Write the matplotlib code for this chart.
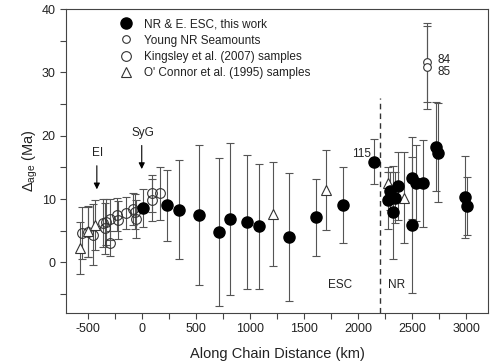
import matplotlib
matplotlib.use("Agg")
import matplotlib.pyplot as plt
from matplotlib.ticker import MultipleLocator, FuncFormatter

plt.rcParams['font.family'] = ['Liberation Sans', 'DejaVu Sans']
plt.rcParams['axes.unicode_minus'] = False
plt.rcParams['mathtext.fontset'] = 'custom'
plt.rcParams['mathtext.rm'] = 'Liberation Sans'
plt.rcParams['mathtext.it'] = 'Liberation Sans:italic'

# NR & E. ESC, this work
nr_x = [10, 230, 345, 525, 710, 820, 970, 1080, 1357, 1610, 1857, 2150, 2280, 2290, 2320,
        2345, 2370, 2495, 2495, 2530, 2595, 2715, 2735, 2985, 3010]
nr_y = [8.6, 9.0, 8.3, 7.5, 4.8, 6.8, 6.4, 5.7, 4.0, 7.1, 9.0, 15.9, 9.8, 11.3, 7.9,
        10.2, 12.1, 13.3, 5.9, 12.6, 12.5, 18.3, 17.3, 10.3, 8.9]
nr_err = [3.0, 5.6, 7.8, 11.0, 11.7, 12.0, 10.6, 9.9, 10.1, 6.1, 6.0, 3.6, 4.5, 3.0, 7.4,
          4.0, 5.4, 6.5, 10.7, 6.0, 6.9, 7.0, 7.8, 6.5, 4.6]

# Young NR Seamounts
yng_x = [2640, 2640]
yng_y = [31.6, 30.8]
yng_err = [6.2, 6.6]

# Kingsley et al. (2007) samples
kin_x = [-555, -500, -455, -360, -330, -340, -295, -295, -230, -220, -150, -80, -65, -55, 95, 95, 165]
kin_y = [4.6, 4.8, 4.4, 6.2, 6.4, 5.4, 3.0, 6.8, 7.5, 6.7, 7.8, 8.4, 8.0, 6.8, 10.9, 9.8, 10.9]
kin_err = [4.1, 4.0, 4.8, 3.8, 3.6, 4.0, 2.0, 3.2, 2.6, 3.0, 2.5, 2.5, 2.8, 3.0, 2.9, 3.3, 4.2]

# O' Connor et al. (1995) samples
oc_x = [-570, -500, -430, 1210, 1707, 2280, 2420]
oc_y = [2.2, 4.9, 5.9, 7.6, 11.4, 12.5, 10.2]
oc_err = [4.1, 4.0, 4.0, 8.2, 6.3, 2.5, 7.2]

ecol = '#555555'
fig = plt.figure(figsize=(5, 3.64), dpi=100)
ax = fig.add_axes([0.132, 0.140, 0.844, 0.835])

eb = dict(fmt='none', ecolor=ecol, elinewidth=0.8, capsize=2.8, capthick=0.8, zorder=2)
ax.errorbar(kin_x, kin_y, yerr=kin_err, **eb)
ax.errorbar(oc_x, oc_y, yerr=oc_err, **eb)
ax.errorbar(yng_x, yng_y, yerr=yng_err, **eb)
ax.errorbar(nr_x, nr_y, yerr=nr_err, **eb)

l1, = ax.plot(nr_x, nr_y, 'o', ms=8, mfc='black', mec='black', ls='none', zorder=4)
l2, = ax.plot(yng_x, yng_y, 'o', ms=5.5, mfc='white', mec='#333333', mew=0.8, ls='none', zorder=3)
l3, = ax.plot(kin_x, kin_y, 'o', ms=7, mfc='none', mec='#333333', mew=0.8, ls='none', zorder=3)
l4, = ax.plot(oc_x, oc_y, '^', ms=6.5, mfc='white', mec='#333333', mew=0.8, ls='none', zorder=3)

ax.legend([l1, l2, l3, l4],
          ['NR & E. ESC, this work', 'Young NR Seamounts',
           'Kingsley et al. (2007) samples', "O' Connor et al. (1995) samples"],
          loc='upper left', bbox_to_anchor=(0.115, 0.985), frameon=False,
          fontsize=8.5, handlelength=1.2, handletextpad=0.9, labelspacing=0.35,
          borderaxespad=0, labelcolor='#222222')

ax.plot([2200, 2200], [-8, 26], color='#333333', lw=1, ls=(0, (4, 3)), zorder=1)

tc = '#222222'
ax.annotate('', xy=(-415, 11.1), xytext=(-415, 15.7),
            arrowprops=dict(arrowstyle='-|>', color='black', lw=0.8, mutation_scale=9))
ax.text(-405, 17.3, 'EI', ha='center', va='center', fontsize=8.5, color=tc)
ax.annotate('', xy=(0, 14.3), xytext=(0, 18.9),
            arrowprops=dict(arrowstyle='-|>', color='black', lw=0.8, mutation_scale=9))
ax.text(15, 20.5, 'SyG', ha='center', va='center', fontsize=8.5, color=tc)

ax.text(2730, 32.0, '84', ha='left', va='center', fontsize=8.5, color=tc)
ax.text(2730, 30.0, '85', ha='left', va='center', fontsize=8.5, color=tc)
ax.text(2120, 17.1, '115', ha='right', va='center', fontsize=8.5, color=tc)
ax.text(1835, -3.5, 'ESC', ha='center', va='center', fontsize=8.5, color=tc)
ax.text(2355, -3.5, 'NR', ha='center', va='center', fontsize=8.5, color=tc)

ax.set_xlim(-700, 3200)
ax.set_ylim(-8, 40)
ax.xaxis.set_major_locator(MultipleLocator(250))
ax.yaxis.set_major_locator(MultipleLocator(5))
ax.xaxis.set_major_formatter(FuncFormatter(lambda v, p: '%d' % v if v % 500 == 0 else ''))
ax.yaxis.set_major_formatter(FuncFormatter(lambda v, p: '%d' % v if v % 10 == 0 else ''))
ax.tick_params(direction='out', length=4, width=0.8, colors='#444444', labelcolor=tc, labelsize=9)

for s in ax.spines.values():
    s.set_color('#444444')
    s.set_linewidth(0.8)

ax.set_xlabel('Along Chain Distance (km)', fontsize=10.5, color=tc, labelpad=8)
ax.set_ylabel(r'$\Delta_{\rm age}$ (Ma)', fontsize=10.5, color=tc, labelpad=1)

fig.savefig('out.png', dpi=100)
